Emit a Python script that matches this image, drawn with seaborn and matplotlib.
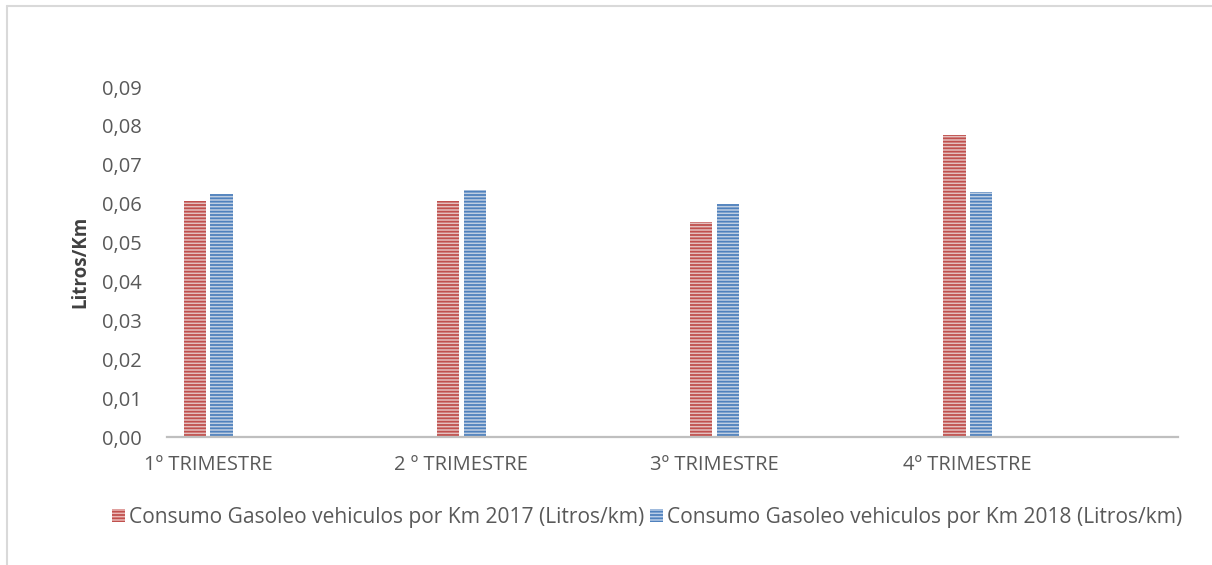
import numpy as np
import pandas as pd
import matplotlib
matplotlib.use('Agg')
import matplotlib.pyplot as plt
import matplotlib.patches as mpatches
from matplotlib.lines import Line2D
import seaborn as sns

trimestres = ['1º TRIMESTRE', '2 º TRIMESTRE', '3º TRIMESTRE', '4º TRIMESTRE']
consumo_2017 = [0.0606, 0.0606, 0.0554, 0.0776]
consumo_2018 = [0.0626, 0.0634, 0.0600, 0.0629]
series = ['Consumo Gasoleo vehiculos por Km 2017 (Litros/km)',
          'Consumo Gasoleo vehiculos por Km 2018 (Litros/km)']
yticks = [0.00, 0.01, 0.02, 0.03, 0.04, 0.05, 0.06, 0.07, 0.08, 0.09]

df = pd.DataFrame({
    'trimestre': trimestres * 2,
    'valor': consumo_2017 + consumo_2018,
    'serie': [series[0]] * 4 + [series[1]] * 4,
})

sns.set_style('white')
plt.rcParams['font.family'] = ['Open Sans', 'DejaVu Sans']
plt.rcParams['hatch.linewidth'] = 1.3

dark = {series[0]: '#C0504D', series[1]: '#4F81BD'}
light = {series[0]: '#EBB9B7', series[1]: '#B9CDE8'}
txt = '#595959'
fs = 14.5

fig = plt.figure(figsize=(12.12, 5.65), dpi=100)
ax = fig.add_axes([0.1378, 0.2265, 0.834, 0.6195])

sns.barplot(data=df, x='trimestre', y='valor', hue='serie', order=trimestres,
            hue_order=series, palette=light, width=0.21, gap=0.16,
            legend=False, ax=ax)

for cont, s in zip(ax.containers, series):
    for bar in cont:
        bar.set_hatch('-----')
        bar.set_edgecolor(dark[s])
        bar.set_linewidth(0)

ax.set_xlim(-0.163, 3.83)
ax.set_ylim(0, 0.09)
ax.set_yticks(yticks)
ax.set_yticklabels([f'{v:.2f}'.replace('.', ',') for v in yticks])
ax.tick_params(axis='y', length=0, pad=18, labelsize=fs, labelcolor=txt)
ax.tick_params(axis='x', length=0, pad=13, labelsize=fs, labelcolor=txt)
ax.set_xlabel('')
ax.set_ylabel('Litros/Km', fontsize=13.5, fontweight='bold', color='#404040')
ax.yaxis.set_label_coords(-0.076, 0.5)

for sp in ['top', 'right', 'left']:
    ax.spines[sp].set_visible(False)
ax.spines['bottom'].set_color('#BFBFBF')
ax.spines['bottom'].set_linewidth(1.6)
ax.grid(False)

handles = [mpatches.Patch(facecolor=light[s], edgecolor=dark[s], hatch='-----',
                          linewidth=0) for s in series]
fig.legend(handles, series, loc='center', bbox_to_anchor=(0.534, 0.084), ncol=2,
           frameon=False, fontsize=15.1, labelcolor=txt, handlelength=0.62,
           handleheight=0.62, handletextpad=0.2, columnspacing=0.25)

# chart area border (top and left edges visible)
fig.add_artist(Line2D([0.0058, 1.0], [0.9885, 0.9885], color='#D9D9D9', lw=1.5,
                      transform=fig.transFigure))
fig.add_artist(Line2D([0.0058, 0.0058], [0.0, 0.9885], color='#D9D9D9', lw=1.5,
                      transform=fig.transFigure))

fig.savefig('out.png', dpi=100)
